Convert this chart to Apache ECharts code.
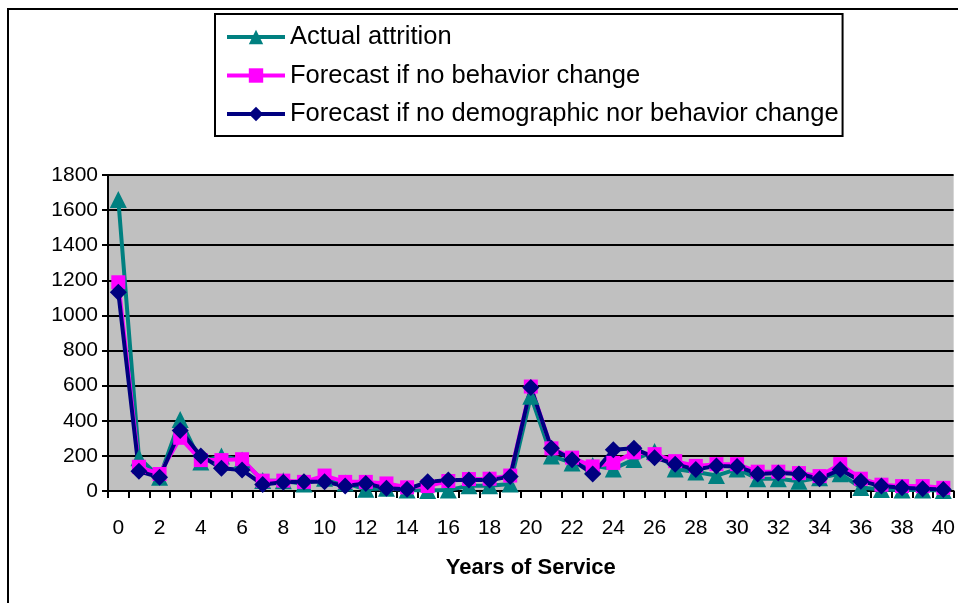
<!DOCTYPE html>
<html>
<head>
<meta charset="utf-8">
<script src="https://cdn.jsdelivr.net/npm/echarts@6/dist/echarts.min.js"></script>
<style>html,body{margin:0;padding:0;background:#fff}#c{width:958px;height:603px}</style>
</head>
<body>
<div id="c"></div>
<script>
const years = Array.from({length: 41}, (_, i) => String(i));
const actualAttrition = [1660,190,78,407,165,200,176,60,58,40,73,45,10,15,5,3,5,30,30,40,540,200,160,145,125,180,225,125,108,88,125,70,70,55,75,98,20,8,5,5,3];
const forecastNoBehavior = [1189,138,97,303,176,176,181,59,59,52,88,52,52,43,21,28,57,68,70,88,595,243,190,140,160,220,210,170,143,153,153,110,110,102,85,153,70,36,28,28,18];
const forecastNoDemoBehavior = [1132,112,78,345,200,130,119,37,50,52,52,28,43,15,10,52,62,62,62,82,590,243,178,97,235,243,190,153,122,143,140,97,102,97,70,122,56,28,18,13,8];
const yTicks = {min: 0, max: 1800, interval: 200};

const chart = echarts.init(document.getElementById('c'));
const font = 'Liberation Sans, Arial, sans-serif';
function mkSeries(name, data, color, symbol, size) {
  return {
    name, type: 'line', data, symbol, symbolSize: size,
    showSymbol: true, showAllSymbol: true,
    lineStyle: {color, width: 4},
    itemStyle: {color},
    emphasis: {disabled: true},
    animation: false
  };
}
chart.setOption({
  animation: false,
  graphic: [{
    type: 'rect', shape: {x: 8, y: 9, width: 1000, height: 1000},
    style: {fill: 'none', stroke: '#000', lineWidth: 2}, z: 100, silent: true
  }],
  legend: {
    orient: 'vertical', left: 215, top: 14,
    padding: [10, 4, 9, 10],
    itemWidth: 58, itemHeight: 18, itemGap: 12.5,
    borderColor: '#000', borderWidth: 2,
    lineStyle: {width: 4},
    textStyle: {fontFamily: font, fontSize: 25.5, color: '#000', lineHeight: 26},
    data: ['Actual attrition', 'Forecast if no behavior change', 'Forecast if no demographic nor behavior change']
  },
  grid: {left: 108, top: 175, right: 3, bottom: 112, show: true, backgroundColor: '#C0C0C0', borderWidth: 0},
  xAxis: {
    type: 'category', data: years, boundaryGap: true,
    name: 'Years of Service', nameLocation: 'middle', nameGap: 66,
    nameTextStyle: {fontFamily: font, fontSize: 22, fontWeight: 'bold', color: '#000'},
    axisLine: {lineStyle: {color: '#000', width: 2}},
    axisTick: {show: true, interval: 0, length: 7, lineStyle: {color: '#000', width: 2}},
    axisLabel: {interval: 1, margin: 27, fontFamily: font, fontSize: 21, color: '#000'},
    splitLine: {show: false}
  },
  yAxis: {
    type: 'value', min: yTicks.min, max: yTicks.max, interval: yTicks.interval,
    axisLine: {show: true, lineStyle: {color: '#000', width: 2}},
    axisTick: {show: true, length: 6, lineStyle: {color: '#000', width: 2}},
    axisLabel: {margin: 10, fontFamily: font, fontSize: 21, color: '#000', formatter: v => String(v)},
    splitLine: {show: true, lineStyle: {color: '#000', width: 2}}
  },
  series: [
    mkSeries('Actual attrition', actualAttrition, '#008080', 'triangle', 17),
    mkSeries('Forecast if no behavior change', forecastNoBehavior, '#FF00FF', 'rect', 14),
    mkSeries('Forecast if no demographic nor behavior change', forecastNoDemoBehavior, '#000080', 'diamond', 17)
  ]
});
</script>
</body>
</html>
